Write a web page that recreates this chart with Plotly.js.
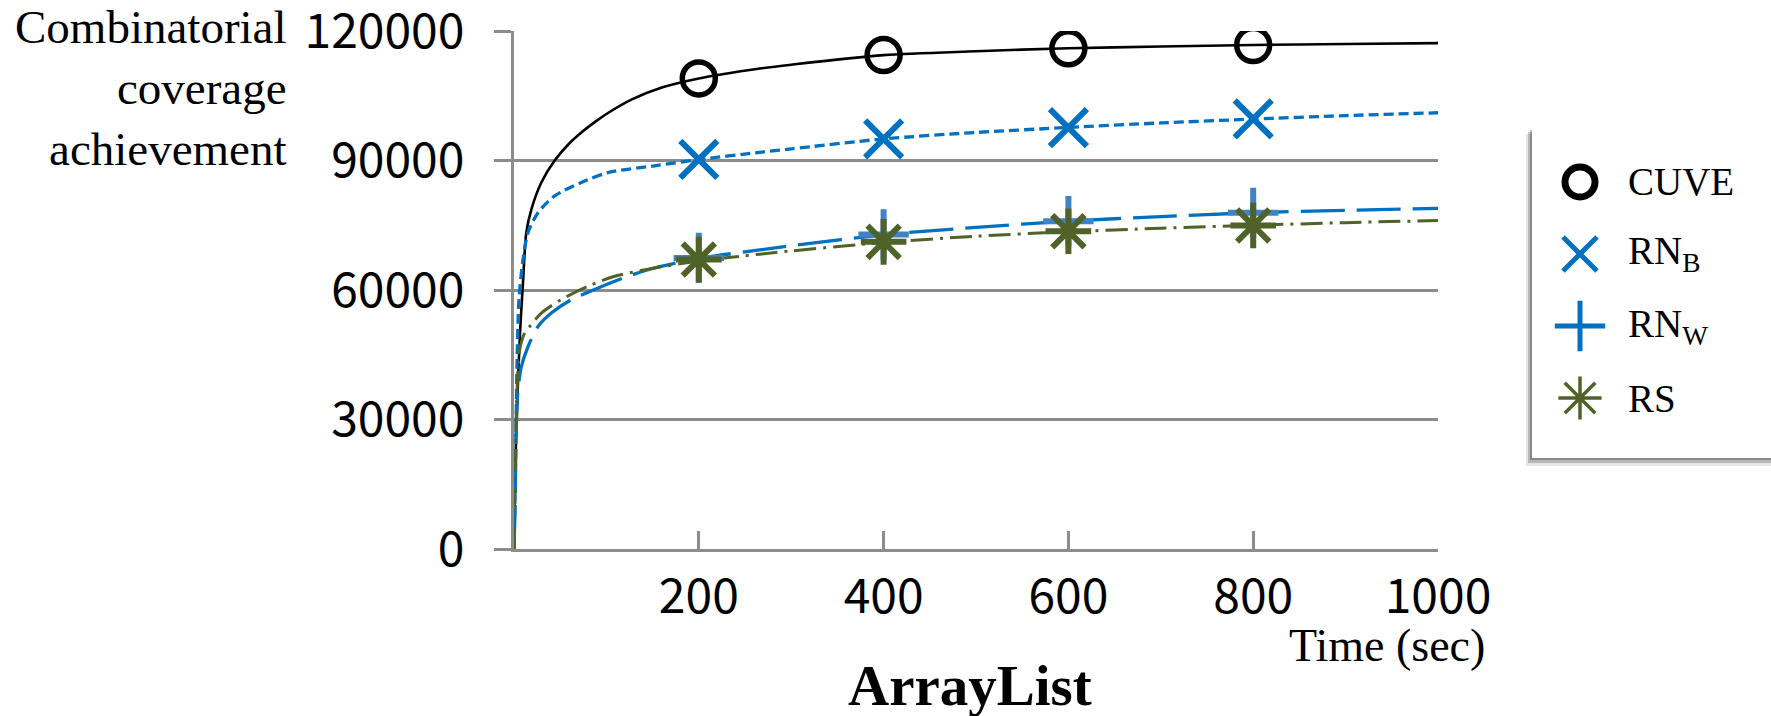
<!DOCTYPE html>
<html>
<head>
<meta charset="utf-8">
<script src="https://cdn.plot.ly/plotly-3.0.1.min.js"></script>
<style>html,body{margin:0;padding:0;background:#fff;}#chart{width:1771px;height:716px;}</style>
</head>
<body>
<div id="chart"></div>
<script>
// ---- data ----
var seriesNames = ['CUVE', 'RN<sub>B</sub>', 'RN<sub>W</sub>', 'RS'];

var cuveCurveX = [0, 1.4, 3.6, 6.5, 9.7, 13.3, 18.8, 29.6, 44, 60, 72.9, 90, 101.7, 127, 160, 200, 266, 300, 400, 500, 600, 700, 800, 900, 1000];
var cuveCurveY = [0, 19000, 34500, 50000, 61600, 73300, 78700, 84900, 90000, 94000, 96500, 99300, 101000, 104100, 106900, 109000, 111300, 112200, 114400, 115300, 116000, 116400, 116750, 117000, 117200];

var rnbCurveX = [0, 1.0, 2.2, 3.2, 5.4, 9.7, 15.2, 26, 44, 72.9, 101.7, 152, 200, 266, 300, 400, 500, 600, 700, 800, 900, 1000];
var rnbCurveY = [0, 12000, 26700, 42200, 57750, 67000, 73300, 77900, 81800, 84900, 87200, 88760, 90200, 91900, 92700, 95000, 96500, 97650, 98700, 99600, 100400, 101060];

var rnwCurveX = [0, 1.4, 2.2, 4.3, 7.9, 15.2, 26, 40.4, 62, 91, 123.4, 152, 200, 266, 300, 400, 500, 600, 700, 800, 900, 1000];
var rnwCurveY = [0, 12000, 26700, 36800, 42200, 46900, 51550, 54650, 57750, 60470, 63180, 65100, 67300, 69300, 70250, 72800, 74500, 75950, 77000, 77900, 78450, 78900];

var rsCurveX = [0, 1.5, 3.5, 6.1, 11.5, 17, 29.6, 51, 80, 109, 152, 200, 266, 300, 400, 500, 600, 700, 800, 900, 1000];
var rsCurveY = [0, 20000, 38000, 46100, 50000, 51550, 54650, 57750, 60850, 63180, 65100, 66700, 68300, 69050, 71000, 72450, 73500, 74300, 75000, 75600, 76100];

var markerX = [200, 400, 600, 800];
var cuveMarks = [109000, 114430, 115980, 116750];
var rnbMarks = [90240, 95030, 97600, 99670];
var rnwMarks = [67440, 72850, 75940, 77870];
var rsMarks = [67050, 71150, 73600, 74930];

var xTickVals = [200, 400, 600, 800, 1000];
var xTickText = ['200', '400', '600', '800', '1000'];
var yTickVals = [0, 30000, 60000, 90000, 120000];
var yTickText = ['0', '30000', '60000', '90000', '120000'];

// ---- layout geometry (pixels of the 1771x716 page) ----
var W = 1771, H = 716;
var L = 514, T = 31, B = 167;
var PLOT_RIGHT = 1438;
var PW = W - L, PH = H - T - B;
function px(x) { return (x - L) / PW; }
function py(y) { return (H - B - y) / PH; }

// legend box
var LG = {left: 1532, top: 128, bottom: 458, symX: 48, textX: 94, row0: 54, rowGap: 72};

var BLACK = '#000000', BLUE = '#0070C0', BLUE2 = '#3f82c6', GREEN = '#4F6228', GRID = '#8c8c8c';
var serif = 'Liberation Serif, Times New Roman, serif';
var sans = 'Noto Sans CJK KR, Noto Sans, sans-serif';

var legendColors = [BLACK, BLUE, BLUE, GREEN];
var legendSymbols = ['circle-open', 'x-thin-open', 'cross-thin-open', 'asterisk-open'];
var legendSizes = [30, 34, 36, 36];
var legendWidths = [7, 5, 5, 3.5];
var legendRows = seriesNames.map(function (n, i) { return LG.row0 + i * LG.rowGap; });
var legendXs = seriesNames.map(function () { return LG.symX; });

var traces = [
  {x: cuveCurveX, y: cuveCurveY, mode: 'lines', line: {color: BLACK, width: 2.6, shape: 'spline', smoothing: 0.8}, hoverinfo: 'skip'},
  {x: rnbCurveX, y: rnbCurveY, mode: 'lines', line: {color: BLUE, width: 3.3, dash: '10px,5px', shape: 'spline', smoothing: 0.8}, hoverinfo: 'skip'},
  {x: rnwCurveX, y: rnwCurveY, mode: 'lines', line: {color: BLUE, width: 3.3, dash: '44px,12px', shape: 'spline', smoothing: 0.8}, hoverinfo: 'skip'},
  {x: rsCurveX, y: rsCurveY, mode: 'lines', line: {color: GREEN, width: 3, dash: '22px,7px,3px,7px', shape: 'spline', smoothing: 0.8}, hoverinfo: 'skip'},
  {x: markerX, y: cuveMarks, name: 'CUVE', mode: 'markers', marker: {symbol: 'circle-open', size: 33, color: BLACK, opacity: 1, line: {width: 5.5, color: BLACK}}},
  {x: markerX, y: rnbMarks, name: 'RNB', mode: 'markers', marker: {symbol: 'x-thin-open', size: 37, color: BLUE, opacity: 1, line: {width: 6, color: BLUE}}},
  {x: markerX, y: rnwMarks, name: 'RNW', mode: 'markers', marker: {symbol: 'cross-thin-open', size: 36, color: BLUE2, opacity: 1, line: {width: 6, color: BLUE2}}},
  {x: markerX, y: rsMarks, name: 'RS', mode: 'markers', marker: {symbol: 'asterisk-open', size: 38, color: GREEN, opacity: 1, line: {width: 6, color: GREEN}}},
  // legend symbols
  {x: legendXs, y: legendRows, xaxis: 'x2', yaxis: 'y2', mode: 'markers', hoverinfo: 'skip',
   marker: {symbol: legendSymbols, size: legendSizes, color: legendColors, opacity: 1, line: {color: legendColors, width: legendWidths}}}
];

var annotations = [
  {xref: 'paper', yref: 'paper', x: px(289), y: py(88), xanchor: 'right', yanchor: 'middle', align: 'right', showarrow: false,
   text: 'Combinatorial<br>coverage<br>achievement', font: {family: serif, size: 47, color: '#000'}},
  {xref: 'paper', yref: 'paper', x: px(1487), y: py(645), xanchor: 'right', yanchor: 'middle', showarrow: false,
   text: 'Time (sec)', font: {family: serif, size: 46, color: '#000'}},
  {xref: 'paper', yref: 'paper', x: px(970), y: py(685), xanchor: 'center', yanchor: 'middle', showarrow: false,
   text: '<b>ArrayList</b>', font: {family: serif, size: 57, color: '#000'}}
];
seriesNames.forEach(function (n, i) {
  annotations.push({xref: 'x2', yref: 'y2', x: LG.textX, y: legendRows[i], xanchor: 'left', yanchor: 'middle',
    showarrow: false, text: n, font: {family: serif, size: 39, color: '#000'}});
});

var layout = {
  width: W, height: H,
  margin: {l: L, r: 0, t: T, b: B, pad: 0},
  paper_bgcolor: '#ffffff', plot_bgcolor: 'rgba(0,0,0,0)',
  showlegend: false,
  xaxis: {
    domain: [0, px(PLOT_RIGHT)],
    range: [0, 1000], tickmode: 'array', tickvals: xTickVals, ticktext: xTickText,
    ticks: 'inside', ticklen: 18, tickwidth: 3, tickcolor: GRID,
    showline: true, linecolor: GRID, linewidth: 3, showgrid: false, zeroline: false,
    tickfont: {family: sans, size: 48, color: '#000'}, ticklabelstandoff: 3, ticklabeloverflow: 'allow', fixedrange: true
  },
  yaxis: {
    range: [0, 120000], tickmode: 'array', tickvals: yTickVals, ticktext: yTickText,
    ticks: 'outside', ticklen: 17, tickwidth: 3, tickcolor: GRID,
    showline: true, linecolor: GRID, linewidth: 3, showgrid: true, gridcolor: GRID, gridwidth: 3, zeroline: false,
    tickfont: {family: sans, size: 48, color: '#000'}, ticklabelstandoff: 20, ticklabeloverflow: 'allow', fixedrange: true
  },
  xaxis2: {domain: [px(LG.left), 1], range: [0, W - LG.left], visible: false, fixedrange: true, anchor: 'y2'},
  yaxis2: {domain: [py(LG.bottom), py(LG.top)], range: [LG.bottom - LG.top, 0], visible: false, fixedrange: true, anchor: 'x2'},
  shapes: [
    {type: 'rect', xref: 'paper', yref: 'paper', x0: px(LG.left - 6), x1: px(1800), y0: py(LG.bottom + 8), y1: py(LG.top + 6), fillcolor: 'rgba(0,0,0,0.10)', line: {width: 0}, layer: 'below'},
    {type: 'rect', xref: 'paper', yref: 'paper', x0: px(LG.left - 4), x1: px(1800), y0: py(LG.bottom + 5), y1: py(LG.top + 4), fillcolor: 'rgba(0,0,0,0.20)', line: {width: 0}, layer: 'below'},
    {type: 'rect', xref: 'paper', yref: 'paper', x0: px(LG.left - 2), x1: px(1800), y0: py(LG.bottom + 2), y1: py(LG.top + 2), fillcolor: 'rgba(0,0,0,0.25)', line: {width: 0}, layer: 'below'},
    {type: 'rect', xref: 'paper', yref: 'paper', x0: px(LG.left), x1: px(1800), y0: py(LG.bottom), y1: py(LG.top), fillcolor: '#ffffff', line: {width: 0}, layer: 'below'}
  ],
  annotations: annotations
};

Plotly.newPlot('chart', traces, layout, {displayModeBar: false, staticPlot: true});
</script>
</body>
</html>
